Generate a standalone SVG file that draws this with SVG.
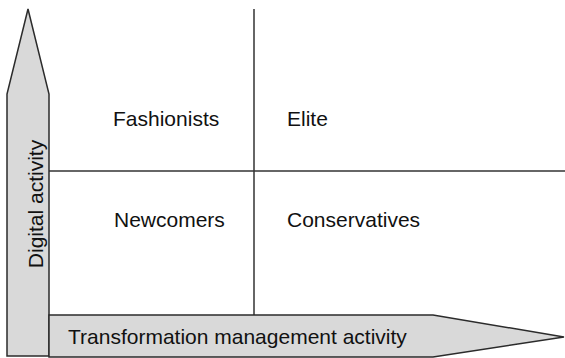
<svg xmlns="http://www.w3.org/2000/svg" width="565" height="358" viewBox="0 0 565 358">
  <style>
    .arrow { fill: #d9d9d9; stroke: #2b2b2b; stroke-width: 1.5; stroke-linejoin: miter; }
    .grid { stroke: #333333; stroke-width: 1.5; fill: none; }
    .lbl { font-family: "Liberation Sans", Arial, sans-serif; font-size: 21px; fill: #111111; }
  </style>
  <rect width="565" height="358" fill="#ffffff"/>
  <g id="connectors">
    <line class="grid" x1="49" y1="171" x2="565" y2="171"/>
    <line class="grid" x1="254" y1="9" x2="254" y2="315"/>
  </g>
  <g id="axis-y">
    <polygon class="arrow" points="28,9 49,94 49,356 7,356 7,94"/>
    <text class="lbl" transform="translate(43,204) rotate(-90)" text-anchor="middle">Digital activity</text>
  </g>
  <g id="axis-x">
    <polygon class="arrow" points="49,315 433,315 564,337 433,357 49,357"/>
    <text class="lbl" x="68" y="344">Transformation management activity</text>
  </g>
  <g id="fashionists"><text class="lbl" x="113" y="126">Fashionists</text></g>
  <g id="elite"><text class="lbl" x="287" y="126">Elite</text></g>
  <g id="newcomers"><text class="lbl" x="114" y="227">Newcomers</text></g>
  <g id="conservatives"><text class="lbl" x="287" y="227">Conservatives</text></g>
</svg>
